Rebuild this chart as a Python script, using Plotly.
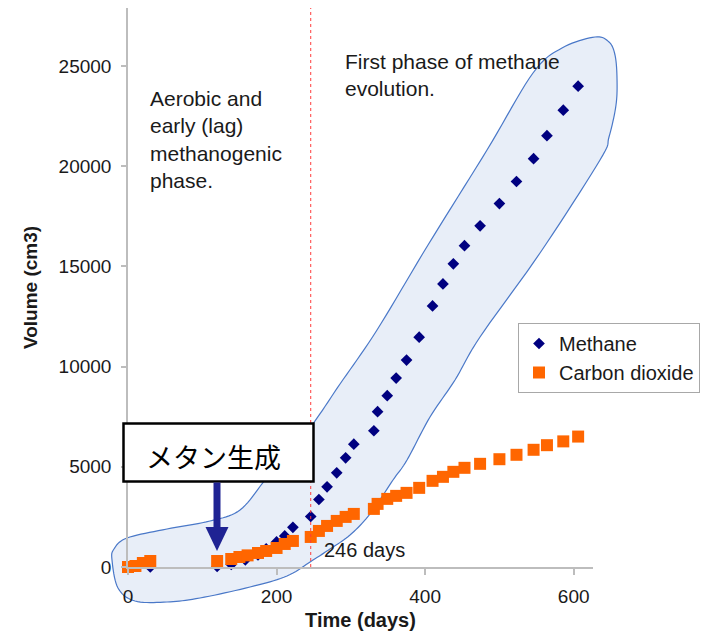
import numpy as np
import plotly.graph_objects as go

# ---------------- data ----------------
methane_days = [0, 30, 120, 139, 158, 175, 186, 200, 211, 222, 246, 257, 268, 281, 293, 304,
                331, 336, 349, 361, 375, 392, 410, 424, 438, 453, 474, 500, 523, 546, 564, 586, 606]
methane_vol = [0, 0, 30, 130, 360, 600, 900, 1250, 1550, 1980, 2520, 3370, 4000, 4700, 5450, 6130,
               6800, 7750, 8550, 9430, 10330, 11470, 13030, 14130, 15130, 16040, 17030, 18140,
               19240, 20380, 21530, 22800, 24000]

co2_days = [0, 10, 20, 30, 120, 139, 150, 161, 175, 186, 200, 211, 222, 246, 257, 268, 281, 293,
            304, 331, 336, 349, 361, 375, 392, 410, 424, 438, 453, 474, 500, 523, 546, 564, 586, 606]
co2_vol = [0, 50, 200, 300, 300, 400, 500, 580, 700, 800, 950, 1150, 1300, 1500, 1800, 2050, 2300,
           2500, 2650, 2900, 3150, 3400, 3550, 3700, 3950, 4300, 4500, 4750, 4950, 5150, 5380, 5600,
           5850, 6080, 6270, 6510]

x_ticks = [0, 200, 400, 600]
y_ticks = [0, 5000, 10000, 15000, 20000, 25000]
y_tick_labels = ["0", "5000", "10000", "15000", "20000", "25000"]
phase_day = 246

# ---------------- geometry ----------------
W, H = 705, 633
L, R, T, B = 128, 112, 8, 66
PW, PH = W - L - R, H - T - B
FONT = "Liberation Sans, Arial, sans-serif"


def pp(x, y):
    """pixel position -> paper coordinates (for decorative overlays)"""
    return (x - L) / PW, (H - B - y) / PH


# outline of the highlighted region (pixels)
blob_px = [(112, 560), (114, 549), (127, 538), (167, 529), (210, 521), (240, 510), (265, 480),
           (289, 451), (312, 425), (340, 384), (377, 330), (428, 245), (487, 150), (533, 73),
           (562, 48), (595, 37), (609, 42), (615, 55), (617, 78), (616, 105), (609, 137),
           (600, 160), (540, 253), (480, 337), (455, 380), (430, 417), (407, 460), (393, 480),
           (370, 514), (350, 535), (330, 549), (313, 560), (287, 576), (250, 587), (200, 598),
           (167, 602), (135, 601), (118, 588)]


def catmull(pts, n=10):
    P = np.array(pts, float)
    N = len(P)
    out = []
    for i in range(N):
        p0, p1, p2, p3 = P[(i - 1) % N], P[i], P[(i + 1) % N], P[(i + 2) % N]
        for t in np.linspace(0, 1, n, endpoint=False):
            t2, t3 = t * t, t * t * t
            out.append(0.5 * (2 * p1 + (-p0 + p2) * t + (2 * p0 - 5 * p1 + 4 * p2 - p3) * t2
                              + (-p0 + 3 * p1 - 3 * p2 + p3) * t3))
    return out


def path_from(pts):
    s = []
    for i, (x, y) in enumerate(pts):
        a, b = pp(x, y)
        s.append(("M" if i == 0 else "L") + f"{a:.5f},{b:.5f}")
    return " ".join(s) + " Z"


fig = go.Figure()
fig.add_trace(go.Scatter(
    x=methane_days, y=methane_vol, mode="markers", name="Methane",
    marker=dict(symbol="diamond", size=9, color="#000080", line=dict(width=0)),
    cliponaxis=False))
fig.add_trace(go.Scatter(
    x=co2_days, y=co2_vol, mode="markers", name="Carbon dioxide",
    marker=dict(symbol="square", size=12, color="#FF6600", line=dict(width=0)),
    cliponaxis=False))

shapes = []
shapes.append(dict(type="path", xref="paper", yref="paper", layer="below",
                   path=path_from(catmull(blob_px)),
                   fillcolor="#e8eef8", line=dict(color="#4a78c8", width=1.2)))
shapes.append(dict(type="line", xref="x", yref="paper", x0=phase_day, x1=phase_day, y0=0, y1=1,
                   line=dict(color="#ff3b3b", width=1, dash="dot"), layer="above"))
bx0, by0 = pp(123.5, 423.5)
bx1, by1 = pp(313.5, 481.5)
shapes.append(dict(type="rect", xref="paper", yref="paper", x0=bx0, y0=by0, x1=bx1, y1=by1,
                   fillcolor="white", line=dict(color="black", width=2.5), layer="above"))
sx0, sy0 = pp(213.5, 482.5)
sx1, sy1 = pp(220.5, 528)
shapes.append(dict(type="rect", xref="paper", yref="paper", x0=sx0, y0=sy0, x1=sx1, y1=sy1,
                   fillcolor="#1f2393", line=dict(width=0), layer="above"))
shapes.append(dict(type="path", xref="paper", yref="paper", layer="above",
                   path=path_from([(205.5, 527), (228.5, 527), (217, 551)]),
                   fillcolor="#1f2393", line=dict(width=0)))

annotations = []


def note(x, y, text, size, xanchor="left", family=FONT, color="#1a1a1a"):
    a, b = pp(x, y)
    annotations.append(dict(x=a, y=b, xref="paper", yref="paper", text=text, showarrow=False,
                            xanchor=xanchor, yanchor="middle", align="left",
                            font=dict(family=family, size=size, color=color)))


note(148, 139.5, "Aerobic and<br>early (lag)<br>methanogenic<br>phase.", 21)
note(343, 75, "First phase of methane<br>evolution.", 21)
note(322, 550, "246 days", 20)
note(213, 456, "メタン生成", 27, xanchor="center", family="Noto Sans CJK JP", color="black")

axis_col = "#bdbdbd"
fig.update_layout(
    width=W, height=H, margin=dict(l=L, r=R, t=T, b=B, autoexpand=False),
    paper_bgcolor="white", plot_bgcolor="rgba(0,0,0,0)",
    font=dict(family=FONT, size=19, color="#1a1a1a"),
    shapes=shapes, annotations=annotations,
    showlegend=True,
    legend=dict(x=pp(518, 0)[0], y=pp(0, 323)[1], xanchor="left", yanchor="top",
                bordercolor="#a8a8a8", borderwidth=1, bgcolor="white",
                font=dict(family=FONT, size=20, color="#1a1a1a"), tracegroupgap=0),
    xaxis=dict(range=[0, 626], tickvals=x_ticks, showgrid=False, zeroline=False,
               showline=True, linecolor=axis_col, linewidth=1.5,
               ticks="outside", ticklen=6, tickcolor=axis_col, tickwidth=1.5,
               ticklabelstandoff=5,
               title=dict(text="Time (days)", standoff=7,
                          font=dict(family=FONT, size=20, weight="bold", color="#1a1a1a"))),
    yaxis=dict(range=[0, 27900], tickvals=y_ticks, ticktext=y_tick_labels,
               showgrid=False, zeroline=False,
               showline=True, linecolor=axis_col, linewidth=1.5,
               ticks="outside", ticklen=5, tickcolor=axis_col, tickwidth=1.5,
               ticklabelstandoff=6,
               title=dict(text="Volume (cm3)", standoff=16,
                          font=dict(family=FONT, size=19, weight="bold", color="#1a1a1a"))),
)

fig.write_html("out.html", config={"displayModeBar": False},
               post_script="document.body.style.margin='0';document.body.style.overflow='hidden';")
